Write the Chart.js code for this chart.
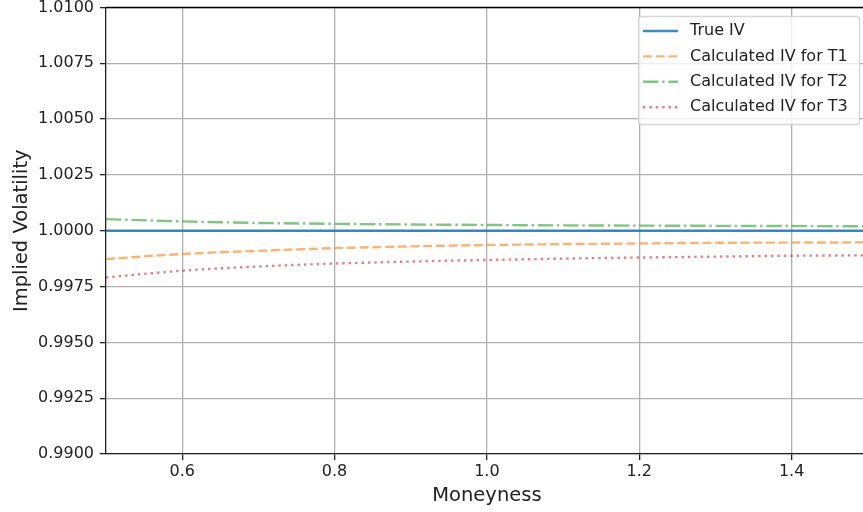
<!DOCTYPE html>
<html>
<head>
<meta charset="utf-8">
<script src="https://cdn.jsdelivr.net/npm/chart.js@4.4.1/dist/chart.umd.min.js"></script>
<style>
  html, body { margin: 0; padding: 0; background: #fff; overflow: hidden; width: 863px; height: 512px; }
  #wrap { width: 880px; height: 512px; }
</style>
</head>
<body>
<div id="wrap"><canvas id="c" width="880" height="512"></canvas></div>
<script>
// ---- data ----
const moneyness = [0.5, 0.6, 0.7, 0.8, 0.9, 1.0, 1.1, 1.2, 1.3, 1.4, 1.5];
const trueIV    = [1.0, 1.0, 1.0, 1.0, 1.0, 1.0, 1.0, 1.0, 1.0, 1.0, 1.0];
const ivT1      = [0.99873, 0.99896, 0.99910, 0.99922, 0.99930, 0.99936, 0.99940, 0.99943, 0.99946, 0.99947, 0.99948];
const ivT2      = [1.00052, 1.00042, 1.00035, 1.00031, 1.00028, 1.00026, 1.00024, 1.00023, 1.00022, 1.00021, 1.00020];
const ivT3      = [0.99791, 0.99821, 0.99840, 0.99853, 0.99862, 0.99869, 0.99875, 0.99880, 0.99884, 0.99888, 0.99890];
const seriesLabels = ['True IV', 'Calculated IV for T1', 'Calculated IV for T2', 'Calculated IV for T3'];
const xTicks = [0.6, 0.8, 1.0, 1.2, 1.4];
const yTicks = [0.9900, 0.9925, 0.9950, 0.9975, 1.0000, 1.0025, 1.0050, 1.0075, 1.0100];
const xTitle = 'Moneyness';
const yTitle = 'Implied Volatility';

const FONT = "'DejaVu Sans', 'Liberation Sans', sans-serif";
const toXY = (arr) => moneyness.map((m, i) => ({ x: m, y: arr[i] }));

const styles = [
  { color: 'rgba(31,119,180,0.85)', dash: [] },
  { color: 'rgba(255,127,14,0.6)', dash: [8.9, 3.8] },
  { color: 'rgba(44,160,44,0.6)', dash: [15.4, 3.8, 2.4, 3.8] },
  { color: 'rgba(214,39,40,0.6)', dash: [2.4, 4] }
];
const seriesData = [trueIV, ivT1, ivT2, ivT3];

const datasets = seriesData.map((arr, i) => ({
  label: seriesLabels[i],
  data: toXY(arr),
  borderColor: styles[i].color,
  backgroundColor: styles[i].color,
  borderDash: styles[i].dash,
  borderWidth: 2.4,
  pointRadius: 0,
  cubicInterpolationMode: 'monotone',
  fill: false,
  order: 4 - i
}));

const framePlugin = {
  id: 'frame',
  afterDatasetsDraw(chart) {
    const { ctx, chartArea: a } = chart;
    ctx.save();
    ctx.strokeStyle = '#000';
    ctx.lineWidth = 1.3;
    ctx.beginPath();
    ctx.moveTo(a.left, a.top);
    ctx.lineTo(a.right, a.top);
    ctx.stroke();
    ctx.restore();
  },
  afterDraw(chart) {
    const { ctx } = chart;
    const bx = 638.5, by = 16.5, bw = 221, bh = 108, r = 3;
    ctx.save();
    ctx.beginPath();
    ctx.moveTo(bx + r, by);
    ctx.lineTo(bx + bw - r, by);
    ctx.arcTo(bx + bw, by, bx + bw, by + r, r);
    ctx.lineTo(bx + bw, by + bh - r);
    ctx.arcTo(bx + bw, by + bh, bx + bw - r, by + bh, r);
    ctx.lineTo(bx + r, by + bh);
    ctx.arcTo(bx, by + bh, bx, by + bh - r, r);
    ctx.lineTo(bx, by + r);
    ctx.arcTo(bx, by, bx + r, by, r);
    ctx.closePath();
    ctx.fillStyle = 'rgba(255,255,255,0.8)';
    ctx.fill();
    ctx.strokeStyle = 'rgba(204,204,204,0.8)';
    ctx.lineWidth = 1.3;
    ctx.stroke();
    chart.data.datasets.forEach((ds, i) => {
      const y = 31 + i * 25.4;
      ctx.beginPath();
      ctx.setLineDash(ds.borderDash);
      ctx.strokeStyle = ds.borderColor;
      ctx.lineWidth = 2.4;
      ctx.lineCap = 'butt';
      ctx.moveTo(643, y);
      ctx.lineTo(678, y);
      ctx.stroke();
      ctx.setLineDash([]);
      ctx.fillStyle = '#222';
      ctx.font = '16px ' + FONT;
      ctx.textBaseline = 'middle';
      ctx.textAlign = 'left';
      ctx.fillText(ds.label, 690, y);
    });
    ctx.restore();
  }
};

new Chart(document.getElementById('c'), {
  type: 'line',
  data: { datasets },
  options: {
    responsive: false,
    devicePixelRatio: 1,
    animation: false,
    layout: { padding: { left: 0, top: 7.5, right: 12.2, bottom: 0 } },
    plugins: { legend: { display: false }, tooltip: { enabled: false } },
    scales: {
      x: {
        type: 'linear',
        min: 0.5,
        max: 1.5,
        afterBuildTicks: (s) => { s.ticks = xTicks.map(v => ({ value: v })); },
        afterFit: (s) => { s.height = 58; s.paddingLeft = 0; s.paddingRight = 0; },
        ticks: {
          callback: (v) => Number(v).toFixed(1),
          font: { family: FONT, size: 16 },
          color: '#222',
          padding: 2,
          maxRotation: 0,
          autoSkip: false
        },
        grid: { color: '#b0b0b0', lineWidth: 1.3, tickColor: '#222', tickLength: 6, tickWidth: 1.3 },
        border: { color: '#222', width: 1.3 },
        title: { display: true, text: xTitle, font: { family: FONT, size: 19.5 }, color: '#222', padding: { top: 0, bottom: 4 } }
      },
      y: {
        type: 'linear',
        min: 0.99,
        max: 1.01,
        afterBuildTicks: (s) => { s.ticks = yTicks.map(v => ({ value: v })); },
        afterFit: (s) => { s.width = 106; s.paddingTop = 0; s.paddingBottom = 0; },
        ticks: {
          callback: (v) => Number(v).toFixed(4),
          font: { family: FONT, size: 16 },
          color: '#222',
          padding: 6,
          autoSkip: false
        },
        grid: { color: '#b0b0b0', lineWidth: 1.3, tickColor: '#222', tickLength: 6, tickWidth: 1.3 },
        border: { color: '#222', width: 1.3 },
        title: { display: true, text: yTitle, font: { family: FONT, size: 19.5 }, color: '#222', padding: { top: 10, bottom: 0 } }
      }
    }
  },
  plugins: [framePlugin]
});
</script>
</body>
</html>
